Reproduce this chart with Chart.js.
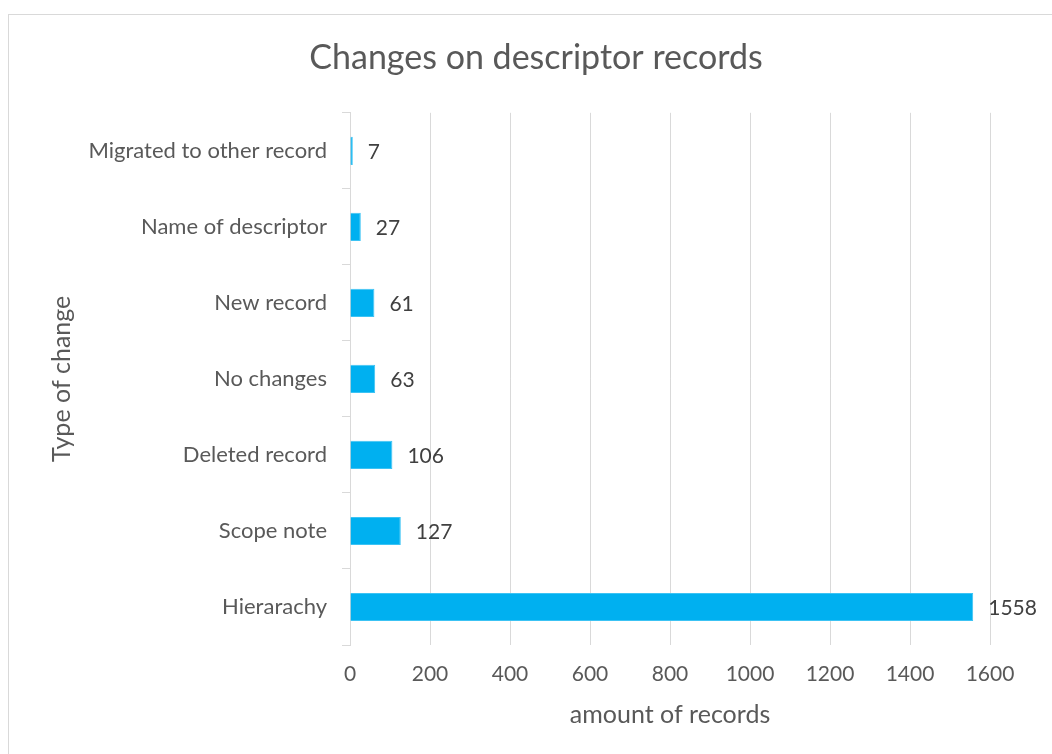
<!DOCTYPE html>
<html>
<head>
<meta charset="utf-8">
<script src="https://cdn.jsdelivr.net/npm/chart.js@4.4.0/dist/chart.umd.min.js"></script>
<style>
  html, body { margin: 0; padding: 0; background: #fff; }
  #wrap { width: 1052px; height: 754px; }
</style>
</head>
<body>
<div id="wrap"><canvas id="changesChart" width="1052" height="754"></canvas></div>
<script>
const categories = ['Migrated to other record', 'Name of descriptor', 'New record', 'No changes', 'Deleted record', 'Scope note', 'Hierarachy'];
const recordCounts = [7, 27, 61, 63, 106, 127, 1558];
const xTicks = [0, 200, 400, 600, 800, 1000, 1200, 1400, 1600];

const FONT = 'Lato, "Open Sans", sans-serif';
const TEXT = '#595959';
const GRID = '#d9d9d9';

// frame around the chart, like the excel chart area
const chartFrame = {
    id: 'chartFrame',
    afterLayout(chart) {
        // center the title on the whole frame, not only the left part
        chart.titleBlock.left = 20;
        chart.titleBlock.right = chart.width;
    },
    beforeDraw(chart) {
        const ctx = chart.ctx;
        ctx.save();
        ctx.fillStyle = '#fff';
        ctx.fillRect(0, 0, chart.width, chart.height);
        ctx.strokeStyle = GRID;
        ctx.lineWidth = 1;
        ctx.strokeRect(8.5, 14.5, chart.width + 20, chart.height + 20);
        ctx.restore();
    }
};

// value labels at the end of each bar
const valueLabels = {
    id: 'valueLabels',
    afterDatasetsDraw(chart) {
        const ctx = chart.ctx;
        const meta = chart.getDatasetMeta(0);
        ctx.save();
        ctx.font = '21px ' + FONT;
        ctx.fillStyle = '#404040';
        ctx.textAlign = 'left';
        ctx.textBaseline = 'middle';
        meta.data.forEach((bar, i) => {
            ctx.fillText(recordCounts[i], bar.x + 15, bar.y + 1);
        });
        ctx.restore();
    }
};

const ctx = document.getElementById('changesChart').getContext('2d');
const changesChart = new Chart(ctx, {
    type: 'bar',
    data: {
        labels: categories,
        datasets: [{
            label: 'amount of records',
            data: recordCounts,
            backgroundColor: '#00b0f0',
            borderColor: '#3cc3f4',
            borderWidth: 1,
            categoryPercentage: 1,
            barPercentage: 0.37
        }]
    },
    options: {
        indexAxis: 'y',
        responsive: false,
        animation: false,
        layout: { padding: { top: 38, left: 0, right: 62, bottom: 0 } },
        plugins: {
            legend: { display: false },
            tooltip: { enabled: false },
            title: {
                display: true,
                text: 'Changes on descriptor records',
                color: TEXT,
                font: { family: FONT, size: 34, weight: 'normal' },
                padding: { top: 0, bottom: 34 }
            }
        },
        scales: {
            x: {
                min: 0,
                max: 1600,
                afterBuildTicks(scale) {
                    scale.ticks = xTicks.map(v => ({ value: v }));
                },
                afterFit(scale) { scale.height = 109; },
                grid: { color: GRID, drawTicks: false },
                border: { display: false },
                ticks: {
                    color: TEXT,
                    font: { family: FONT, size: 21 },
                    padding: 17,
                    callback: (v) => String(v)
                },
                title: {
                    display: true,
                    text: 'amount of records',
                    color: TEXT,
                    font: { family: FONT, size: 25 },
                    padding: { top: 0, bottom: 24 }
                }
            },
            y: {
                afterFit(scale) { scale.width = 350; },
                grid: { drawOnChartArea: false, drawTicks: true, tickLength: 8, color: GRID },
                border: { display: true, color: GRID },
                ticks: {
                    color: TEXT,
                    font: { family: FONT, size: 22 },
                    padding: 15
                },
                title: {
                    display: true,
                    text: 'Type of change',
                    color: TEXT,
                    font: { family: FONT, size: 25 },
                    padding: { top: 47, bottom: 0 }
                }
            }
        }
    },
    plugins: [chartFrame, valueLabels]
});
</script>
</body>
</html>
